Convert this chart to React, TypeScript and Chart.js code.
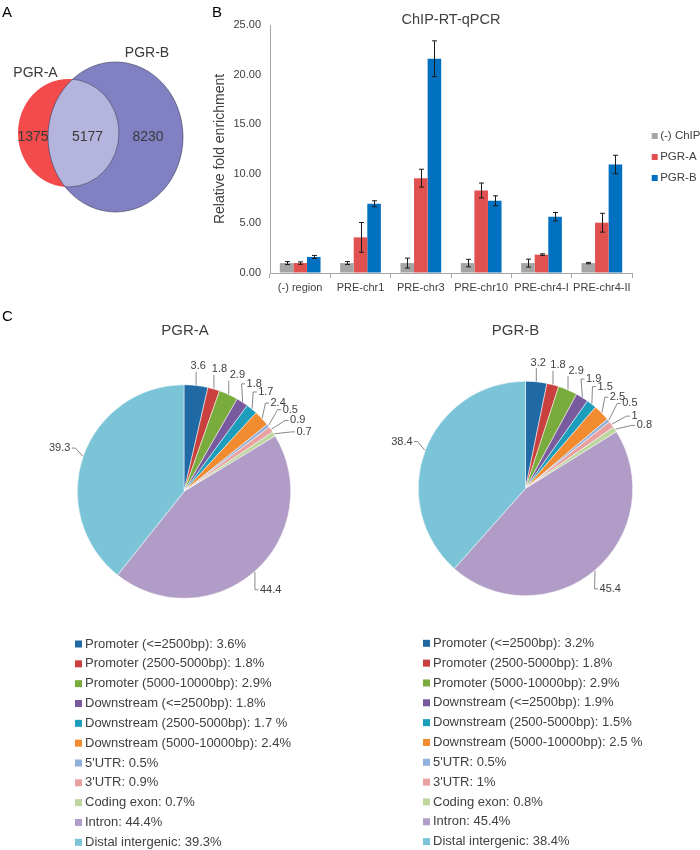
import React, { useEffect, useRef } from "react";
import { Chart, registerables } from "chart.js";

Chart.register(...registerables);

const FONT = "'Liberation Sans', Arial, Helvetica, sans-serif";
const TEXT = "#404040";
Chart.defaults.font.family = FONT;

// ---------- Panel A: Venn ----------
const vennSetNames = ["PGR-A", "PGR-B"];
const vennCounts = [1375, 5177, 8230]; // A only, A∩B, B only

// ---------- Panel B: ChIP-RT-qPCR ----------
const regions = ["(-) region", "PRE-chr1", "PRE-chr3", "PRE-chr10", "PRE-chr4-I", "PRE-chr4-II"];
const seriesNames = ["(-) ChIP", "PGR-A", "PGR-B"];
const chipValues = [1.0, 1.0, 1.0, 1.0, 1.0, 1.0];
const chipErrors = [0.15, 0.15, 0.5, 0.38, 0.4, 0.07];
const pgrAValues = [1.0, 3.59, 9.56, 8.32, 1.85, 5.07];
const pgrAErrors = [0.12, 1.5, 0.9, 0.75, 0.08, 0.95];
const pgrBValues = [1.62, 6.98, 21.6, 7.28, 5.67, 10.94];
const pgrBErrors = [0.15, 0.3, 1.8, 0.5, 0.43, 0.93];
const yTicks = [0, 5, 10, 15, 20, 25];

// ---------- Panel C: genomic distribution ----------
const pieCategories = [
  "Promoter (<=2500bp)",
  "Promoter (2500-5000bp)",
  "Promoter (5000-10000bp)",
  "Downstream (<=2500bp)",
  "Downstream (2500-5000bp)",
  "Downstream (5000-10000bp)",
  "5'UTR",
  "3'UTR",
  "Coding exon",
  "Intron",
  "Distal intergenic",
];
const pgrAShares = [3.6, 1.8, 2.9, 1.8, 1.7, 2.4, 0.5, 0.9, 0.7, 44.4, 39.3];
const pgrBShares = [3.2, 1.8, 2.9, 1.9, 1.5, 2.5, 0.5, 1, 0.8, 45.4, 38.4];
const pgrALegend = [
  "Promoter (<=2500bp): 3.6%",
  "Promoter (2500-5000bp): 1.8%",
  "Promoter (5000-10000bp): 2.9%",
  "Downstream (<=2500bp): 1.8%",
  "Downstream (2500-5000bp): 1.7 %",
  "Downstream (5000-10000bp): 2.4%",
  "5'UTR: 0.5%",
  "3'UTR: 0.9%",
  "Coding exon: 0.7%",
  "Intron: 44.4%",
  "Distal intergenic: 39.3%",
];
const pgrBLegend = [
  "Promoter (<=2500bp): 3.2%",
  "Promoter (2500-5000bp): 1.8%",
  "Promoter (5000-10000bp): 2.9%",
  "Downstream (<=2500bp): 1.9%",
  "Downstream (2500-5000bp): 1.5%",
  "Downstream (5000-10000bp): 2.5 %",
  "5'UTR: 0.5%",
  "3'UTR: 1%",
  "Coding exon: 0.8%",
  "Intron: 45.4%",
  "Distal intergenic: 38.4%",
];

const pieColors = [
  "#1f6aa5",
  "#c9403e",
  "#7aab3d",
  "#7a5a9e",
  "#1b9dbb",
  "#f28a30",
  "#8fb0d9",
  "#e8a0a0",
  "#bcd69d",
  "#b09cc6",
  "#7bc4d8",
];
const barColors = ["#a5a5a5", "#e0514f", "#0070c0"];

// ---------- plugins ----------
const vennPlugin = {
  id: "vennDraw",
  afterDraw(chart: any) {
    const { ctx } = chart;
    const xs = chart.scales.x;
    const ys = chart.scales.y;
    const A = { cx: 68.5, cy: 133, rx: 50.5, ry: 54 };
    const B = { cx: 115.5, cy: 137, rx: 67.5, ry: 75 };
    const path = (c: any) => {
      const px = xs.getPixelForValue(c.cx);
      const py = ys.getPixelForValue(c.cy);
      const rx = Math.abs(xs.getPixelForValue(c.cx + c.rx) - px);
      const ry = Math.abs(ys.getPixelForValue(c.cy + c.ry) - py);
      ctx.beginPath();
      ctx.ellipse(px, py, rx, ry, 0, 0, Math.PI * 2);
    };
    ctx.save();
    path(A);
    ctx.fillStyle = "#f34b4b";
    ctx.fill();
    path(B);
    ctx.fillStyle = "#8080c3";
    ctx.fill();
    ctx.save();
    path(A);
    ctx.clip();
    path(B);
    ctx.fillStyle = "#b4b4dd";
    ctx.fill();
    ctx.restore();
    ctx.lineWidth = 0.8;
    ctx.strokeStyle = "rgba(60,60,90,0.75)";
    path(B);
    ctx.stroke();
    ctx.save();
    path(B);
    ctx.clip();
    path(A);
    ctx.stroke();
    ctx.restore();

    ctx.fillStyle = "#3a3a3a";
    ctx.font = `14px ${FONT}`;
    ctx.textAlign = "center";
    ctx.textBaseline = "middle";
    const t = (s: string, x: number, y: number) =>
      ctx.fillText(s, xs.getPixelForValue(x), ys.getPixelForValue(y));
    t(vennSetNames[0], 35.5, 73);
    t(vennSetNames[1], 147, 53);
    t(String(vennCounts[0]), 33, 137);
    t(String(vennCounts[1]), 87.5, 137);
    t(String(vennCounts[2]), 148, 137);
    ctx.restore();
  },
};

const errorBarPlugin = {
  id: "errorBars",
  afterDatasetsDraw(chart: any) {
    const { ctx } = chart;
    const ys = chart.scales.y;
    ctx.save();
    ctx.strokeStyle = "#1a1a1a";
    ctx.lineWidth = 1;
    chart.data.datasets.forEach((ds: any, i: number) => {
      const meta = chart.getDatasetMeta(i);
      meta.data.forEach((bar: any, j: number) => {
        const v = ds.data[j];
        const e = ds.errors[j];
        const x = Math.round(bar.x) + 0.5;
        const y1 = ys.getPixelForValue(v + e);
        const y2 = ys.getPixelForValue(v - e);
        ctx.beginPath();
        ctx.moveTo(x, y1);
        ctx.lineTo(x, y2);
        ctx.moveTo(x - 2.5, y1);
        ctx.lineTo(x + 2.5, y1);
        ctx.moveTo(x - 2.5, y2);
        ctx.lineTo(x + 2.5, y2);
        ctx.stroke();
      });
    });
    ctx.restore();
  },
};

const barLegendPlugin = {
  id: "barLegend",
  afterDraw(chart: any) {
    const { ctx, chartArea } = chart;
    const x0 = chartArea.right + 19.7;
    const y0 = (chartArea.top + chartArea.bottom) / 2 - 13;
    ctx.save();
    ctx.font = `11.5px ${FONT}`;
    ctx.textBaseline = "middle";
    ctx.textAlign = "left";
    chart.data.datasets.forEach((ds: any, i: number) => {
      const y = y0 + i * 21;
      ctx.fillStyle = ds.backgroundColor;
      ctx.fillRect(x0, y - 3, 6, 6);
      ctx.fillStyle = TEXT;
      ctx.fillText(ds.label, x0 + 8.5, y);
    });
    ctx.restore();
  },
};

function pieDecor(cfg: any) {
  return {
    id: "pieDecor",
    afterDraw(chart: any) {
      const { ctx } = chart;
      const ds = chart.data.datasets[0];
      const arcs = chart.getDatasetMeta(0).data;
      ctx.save();
      // title
      ctx.font = `15px ${FONT}`;
      ctx.fillStyle = TEXT;
      ctx.textAlign = "center";
      ctx.textBaseline = "middle";
      ctx.fillText(cfg.title, cfg.titleX, cfg.titleY);

      // data labels with leader lines
      ctx.font = `11px ${FONT}`;
      const minGap = (5.6 * Math.PI) / 180;
      let prev = -Infinity;
      arcs.forEach((arc: any, i: number) => {
        const p = arc.getProps(["x", "y", "startAngle", "endAngle", "outerRadius"], true);
        const mid = (p.startAngle + p.endAngle) / 2;
        let a = mid;
        let pushed = false;
        if (a - prev < minGap) {
          a = prev + minGap;
          pushed = true;
        }
        prev = a;
        const text = String(ds.data[i]);
        const w = ctx.measureText(text).width;
        const h = 11;
        const cx0 = Math.cos(a);
        const sy0 = Math.sin(a);
        const dist =
          p.outerRadius + 13 + (pushed ? 5 : 0) + (w / 2) * Math.abs(cx0) + (h / 2) * Math.abs(sy0);
        const lx = p.x + dist * cx0;
        const ly = p.y + dist * sy0;
        ctx.fillStyle = TEXT;
        ctx.textAlign = "center";
        ctx.fillText(text, lx, ly);

        const ex = p.x + (p.outerRadius + 0.5) * Math.cos(mid);
        const ey = p.y + (p.outerRadius + 0.5) * Math.sin(mid);
        const left = lx - w / 2;
        const right = lx + w / 2;
        ctx.beginPath();
        ctx.strokeStyle = "#6a6a6a";
        ctx.lineWidth = 0.8;
        ctx.moveTo(ex, ey);
        if (ex < left - 1) {
          ctx.lineTo(left - 5, ly);
          ctx.lineTo(left - 1.5, ly);
        } else if (ex > right + 1) {
          ctx.lineTo(right + 5, ly);
          ctx.lineTo(right + 1.5, ly);
        } else {
          ctx.lineTo(ex, ey > ly ? ly + 5.5 : ly - 5.5);
        }
        ctx.stroke();
      });

      // legend
      ctx.font = `13px ${FONT}`;
      ctx.textAlign = "left";
      ds.legendTexts.forEach((s: string, i: number) => {
        const y = cfg.legendY + i * 19.83;
        ctx.fillStyle = ds.backgroundColor[i];
        ctx.fillRect(cfg.legendX, y - 3.5, 7, 7);
        ctx.fillStyle = TEXT;
        ctx.fillText(s, cfg.legendX + 10, y);
      });
      ctx.restore();
    },
  };
}

function vennConfig(): any {
  return {
    type: "scatter",
    data: { datasets: [] },
    options: {
      responsive: false,
      animation: false,
      devicePixelRatio: 1,
      layout: { padding: 0 },
      plugins: { legend: { display: false }, tooltip: { enabled: false } },
      scales: {
        x: { type: "linear", min: 0, max: 205, display: false },
        y: { type: "linear", min: 0, max: 260, reverse: true, display: false },
      },
    },
    plugins: [vennPlugin],
  };
}

function barConfig(): any {
  const values = [chipValues, pgrAValues, pgrBValues];
  const errors = [chipErrors, pgrAErrors, pgrBErrors];
  return {
    type: "bar",
    data: {
      labels: regions,
      datasets: seriesNames.map((name, i) => ({
        label: name,
        data: values[i],
        errors: errors[i],
        backgroundColor: barColors[i],
        borderWidth: 0,
      })),
    },
    options: {
      responsive: false,
      animation: false,
      devicePixelRatio: 1,
      layout: { padding: { left: 0, top: 0, right: 68, bottom: 0 } },
      datasets: { bar: { barPercentage: 1, categoryPercentage: 0.675 } },
      plugins: {
        legend: { display: false },
        tooltip: { enabled: false },
        title: {
          display: true,
          text: "ChIP-RT-qPCR",
          fullSize: false,
          color: TEXT,
          font: { size: 14.5, weight: "normal", family: FONT },
          padding: { top: 11.3, bottom: -3.7 },
        },
      },
      scales: {
        x: {
          grid: {
            display: true,
            drawOnChartArea: false,
            drawTicks: true,
            tickLength: 5,
            color: "#a6a6a6",
            offset: true,
          },
          border: { display: true, color: "#a6a6a6" },
          ticks: { font: { size: 11 }, color: TEXT, padding: 3, maxRotation: 0, autoSkip: false },
          afterFit: (s: any) => {
            s.height = 27;
          },
        },
        y: {
          min: yTicks[0],
          max: yTicks[yTicks.length - 1],
          afterBuildTicks: (s: any) => {
            s.ticks = yTicks.map((v) => ({ value: v }));
          },
          ticks: {
            callback: (v: any) => Number(v).toFixed(2),
            font: { size: 11 },
            color: TEXT,
            padding: 9,
          },
          grid: { display: true, drawOnChartArea: false, drawTicks: false },
          border: { display: true, color: "#a6a6a6" },
          title: {
            display: true,
            text: "Relative fold enrichment",
            color: TEXT,
            font: { size: 14 },
            padding: { top: 6.6, bottom: 0 },
          },
          afterFit: (s: any) => {
            s.width = 65;
          },
        },
      },
    },
    plugins: [errorBarPlugin, barLegendPlugin],
  };
}

function pieConfig(shares: number[], legendTexts: string[], deco: any): any {
  return {
    type: "pie",
    data: {
      labels: pieCategories,
      datasets: [
        {
          data: shares,
          legendTexts,
          backgroundColor: pieColors,
          borderColor: "#ffffff",
          borderWidth: 0.5,
        },
      ],
    },
    options: {
      responsive: false,
      animation: false,
      devicePixelRatio: 1,
      layout: { padding: deco.padding },
      plugins: { legend: { display: false }, tooltip: { enabled: false }, title: { display: false } },
    },
    plugins: [pieDecor(deco)],
  };
}

const letterStyle = (left: number, top: number): React.CSSProperties => ({
  position: "absolute",
  left,
  top,
  font: `15px ${FONT}`,
  lineHeight: "15px",
  color: "#000",
});

export default function App() {
  const vennRef = useRef<HTMLCanvasElement>(null);
  const barRef = useRef<HTMLCanvasElement>(null);
  const pieARef = useRef<HTMLCanvasElement>(null);
  const pieBRef = useRef<HTMLCanvasElement>(null);

  useEffect(() => {
    const charts = [
      new Chart(vennRef.current as HTMLCanvasElement, vennConfig()),
      new Chart(barRef.current as HTMLCanvasElement, barConfig()),
      new Chart(
        pieARef.current as HTMLCanvasElement,
        pieConfig(pgrAShares, pgrALegend, {
          padding: { left: 77, right: 59, top: 84.5, bottom: 251.5 },
          title: "PGR-A",
          titleX: 185,
          titleY: 31,
          legendX: 75,
          legendY: 344,
        })
      ),
      new Chart(
        pieBRef.current as HTMLCanvasElement,
        pieConfig(pgrBShares, pgrBLegend, {
          padding: { left: 68, right: 67, top: 81, bottom: 254 },
          title: "PGR-B",
          titleX: 165.5,
          titleY: 31,
          legendX: 73,
          legendY: 343.3,
        })
      ),
    ];
    return () => charts.forEach((c) => c.destroy());
  }, []);

  return (
    <div
      style={{
        position: "absolute",
        left: 0,
        top: 0,
        width: 700,
        height: 850,
        background: "#ffffff",
        overflow: "hidden",
      }}
    >
      <canvas ref={vennRef} width={205} height={260} style={{ position: "absolute", left: 0, top: 0 }} />
      <canvas ref={barRef} width={495} height={300} style={{ position: "absolute", left: 205, top: 0 }} />
      <canvas ref={pieARef} width={350} height={550} style={{ position: "absolute", left: 0, top: 300 }} />
      <canvas ref={pieBRef} width={350} height={550} style={{ position: "absolute", left: 350, top: 300 }} />
      <div style={letterStyle(2, 4)}>A</div>
      <div style={letterStyle(212, 4)}>B</div>
      <div style={letterStyle(2, 308)}>C</div>
    </div>
  );
}
